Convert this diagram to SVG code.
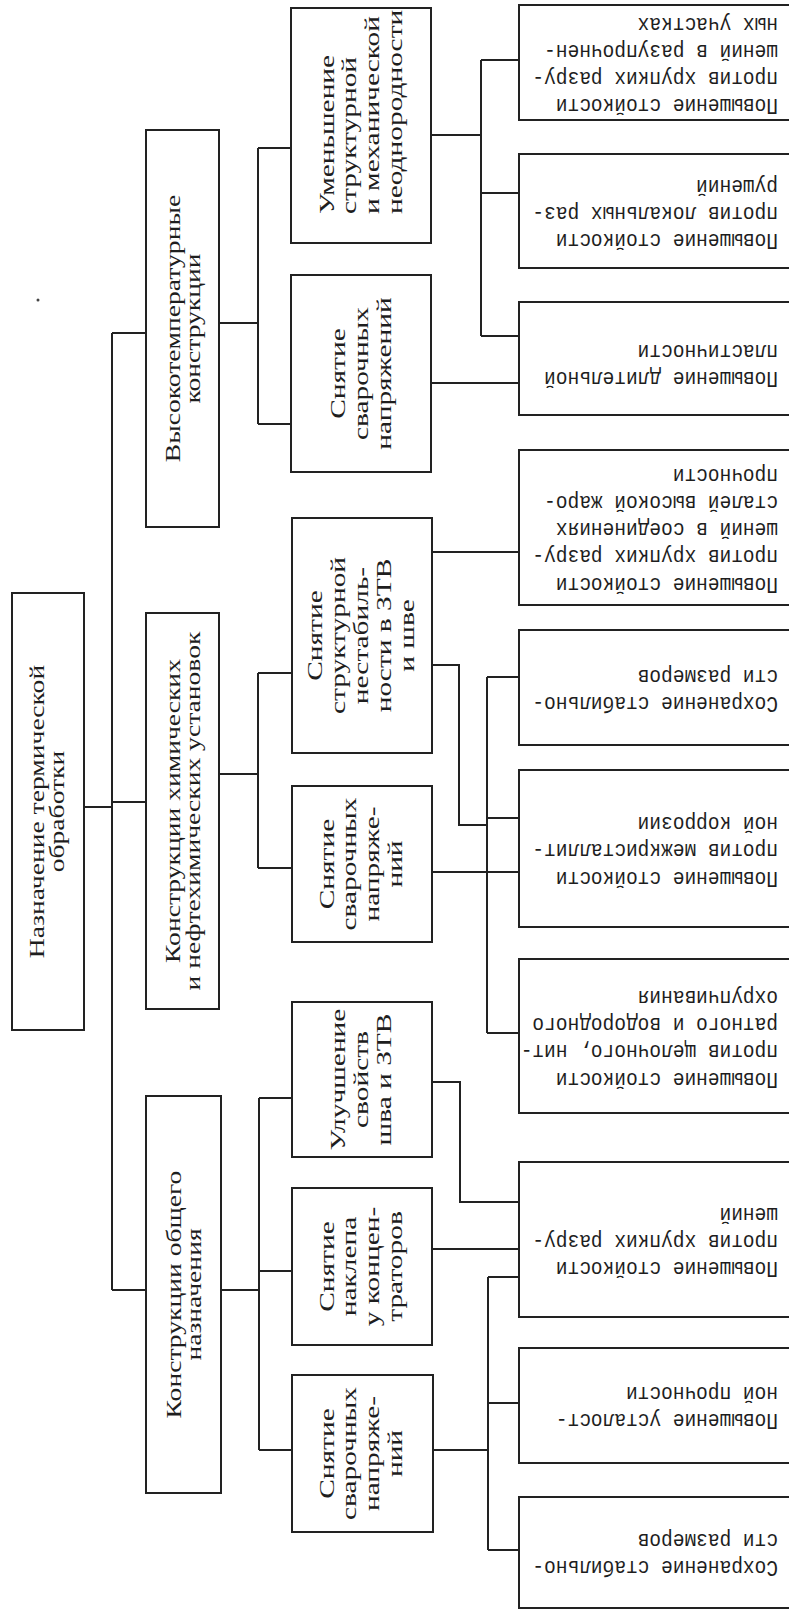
<svg xmlns="http://www.w3.org/2000/svg" width="789" height="1612" viewBox="0 0 789 1612">
<style>
.box{fill:none;stroke:#222;stroke-width:2}
#connectors path{fill:none;stroke:#222;stroke-width:2}
text{fill:#1e1e1e}
.s{font-family:"Liberation Serif","Times New Roman",serif;text-anchor:middle}
.st{text-anchor:start}
.f20{font-size:20px}
.f21{font-size:21px}
.m{font-family:"Liberation Mono","Courier New",monospace;font-size:19.5px}
</style>
<rect width="789" height="1612" fill="#fff"/>
<circle cx="38" cy="300" r="1.5" fill="#444"/>

<g id="connectors">
<path d="M84,807 H112 M112,333 V1290 M112,333 H146 M112,802 H146 M112,1290 H146"/>
<path d="M219,323 H258 M258,148 V424 M258,148 H291 M258,424 H291"/>
<path d="M219,774 H258 M258,673 V868 M258,673 H292 M258,868 H292"/>
<path d="M221,1290 H259 M259,1098 V1450 M259,1098 H292 M259,1271 H292 M259,1450 H292"/>
<path d="M431,135 H481 M481,60 V336 M481,60 H519 M481,193 H519 M481,336 H519 M431,383 H519"/>
<path d="M432,552 H519 M432,665 H459 V825 H487 M487,677 V1033 M487,677 H519 M487,818 H519 M487,1033 H519 M432,872 H519"/>
<path d="M432,1082 H460 V1202 H519 M432,1249 H519 M488,1277 V1550 M488,1277 H519 M488,1403 H519 M488,1550 H519 M433,1450 H488"/>
</g>

<g id="root">
<rect class="box" x="12" y="593" width="72" height="437"/>
<text class="s f20" transform="translate(44,811.5) scale(1,1.38) rotate(-90)"><tspan x="0" y="0">Назначение термической</tspan><tspan x="0" y="20">обработки</tspan></text>
</g>

<g id="n-high">
<rect class="box" x="146" y="130" width="73" height="397"/>
<text class="s f20" transform="translate(179.5,328.5) scale(1,1.38) rotate(-90)"><tspan x="0" y="0">Высокотемпературные</tspan><tspan x="0" y="21">конструкции</tspan></text>
</g>
<g id="n-chem">
<rect class="box" x="146" y="613" width="73" height="396"/>
<text class="s f20" transform="translate(179.5,811) scale(1,1.38) rotate(-90)"><tspan x="0" y="0">Конструкции химических</tspan><tspan x="0" y="21">и нефтехимических установок</tspan></text>
</g>
<g id="n-gen">
<rect class="box" x="146" y="1096" width="75" height="397"/>
<text class="s f20" transform="translate(180.5,1294.5) scale(1,1.38) rotate(-90)"><tspan x="0" y="0">Конструкции общего</tspan><tspan x="0" y="21">назначения</tspan></text>
</g>

<g id="n-umen">
<rect class="box" x="291" y="8" width="140" height="235"/>
<text class="s st f21" transform="translate(333.5,214) scale(1,1.4) rotate(-90)"><tspan x="0" y="0">Уменьшение</tspan><tspan x="0" y="23">структурной</tspan><tspan x="0" y="46">и механической</tspan><tspan x="0" y="69">неоднородности</tspan></text>
</g>
<g id="n-snyat1">
<rect class="box" x="291" y="275" width="140" height="197"/>
<text class="s f21" transform="translate(345,373.5) scale(1,1.4) rotate(-90)"><tspan x="0" y="0">Снятие</tspan><tspan x="0" y="23">сварочных</tspan><tspan x="0" y="46">напряжений</tspan></text>
</g>
<g id="n-struct">
<rect class="box" x="292" y="518" width="140" height="235"/>
<text class="s f21" transform="translate(322,635.5) scale(1,1.4) rotate(-90)"><tspan x="0" y="0">Снятие</tspan><tspan x="0" y="23">структурной</tspan><tspan x="0" y="46">нестабиль-</tspan><tspan x="0" y="69">ности в ЗТВ</tspan><tspan x="0" y="92">и шве</tspan></text>
</g>
<g id="n-snyat2">
<rect class="box" x="292" y="786" width="140" height="156"/>
<text class="s f21" transform="translate(333.5,864) scale(1,1.4) rotate(-90)"><tspan x="0" y="0">Снятие</tspan><tspan x="0" y="23">сварочных</tspan><tspan x="0" y="46">напряже-</tspan><tspan x="0" y="69">ний</tspan></text>
</g>
<g id="n-uluch">
<rect class="box" x="292" y="1002" width="140" height="155"/>
<text class="s f21" transform="translate(345,1079.5) scale(1,1.4) rotate(-90)"><tspan x="0" y="0">Улучшение</tspan><tspan x="0" y="23">свойств</tspan><tspan x="0" y="46">шва и ЗТВ</tspan></text>
</g>
<g id="n-naklep">
<rect class="box" x="292" y="1188" width="140" height="157"/>
<text class="s f21" transform="translate(333.5,1266.5) scale(1,1.4) rotate(-90)"><tspan x="0" y="0">Снятие</tspan><tspan x="0" y="23">наклепа</tspan><tspan x="0" y="46">у концен-</tspan><tspan x="0" y="69">траторов</tspan></text>
</g>
<g id="n-snyat3">
<rect class="box" x="292" y="1375" width="141" height="157"/>
<text class="s f21" transform="translate(333.5,1453.5) scale(1,1.4) rotate(-90)"><tspan x="0" y="0">Снятие</tspan><tspan x="0" y="23">сварочных</tspan><tspan x="0" y="46">напряже-</tspan><tspan x="0" y="69">ний</tspan></text>
</g>

<g id="r1">
<rect class="box" x="519" y="5" width="280" height="115"/>
<text class="m" transform="translate(778,99) scale(1,1.15) rotate(180)"><tspan x="0" y="0">Повышение стойкости</tspan><tspan x="0" y="23.5">против хрупких разру-</tspan><tspan x="0" y="47">шений в разупрочнен-</tspan><tspan x="0" y="70.5">ных участках</tspan></text>
</g>
<g id="r2">
<rect class="box" x="519" y="154" width="280" height="114"/>
<text class="m" transform="translate(778,234) scale(1,1.15) rotate(180)"><tspan x="0" y="0">Повышение стойкости</tspan><tspan x="0" y="23.5">против локальных раз-</tspan><tspan x="0" y="47">рушений</tspan></text>
</g>
<g id="r3">
<rect class="box" x="519" y="302" width="280" height="113"/>
<text class="m" transform="translate(778,372) scale(1,1.15) rotate(180)"><tspan x="0" y="0">Повышение длительной</tspan><tspan x="0" y="23.5">пластичности</tspan></text>
</g>
<g id="r4">
<rect class="box" x="519" y="450" width="280" height="155"/>
<text class="m" transform="translate(778,577.5) scale(1,1.15) rotate(180)"><tspan x="0" y="0">Повышение стойкости</tspan><tspan x="0" y="23.5">против хрупких разру-</tspan><tspan x="0" y="47">шений в соединениях</tspan><tspan x="0" y="70.5">сталей высокой жаро-</tspan><tspan x="0" y="94">прочности</tspan></text>
</g>
<g id="r5">
<rect class="box" x="519" y="630" width="280" height="115"/>
<text class="m" transform="translate(778,697) scale(1,1.15) rotate(180)"><tspan x="0" y="0">Сохранение стабильно-</tspan><tspan x="0" y="23.5">сти размеров</tspan></text>
</g>
<g id="r6">
<rect class="box" x="519" y="770" width="280" height="157"/>
<text class="m" transform="translate(778,871.5) scale(1,1.15) rotate(180)"><tspan x="0" y="0">Повышение стойкости</tspan><tspan x="0" y="23.5">против межкристаллит-</tspan><tspan x="0" y="47">ной коррозии</tspan></text>
</g>
<g id="r7">
<rect class="box" x="519" y="959" width="280" height="154"/>
<text class="m" transform="translate(778,1072.5) scale(1,1.15) rotate(180)"><tspan x="0" y="0">Повышение стойкости</tspan><tspan x="0" y="23.5">против щелочного, нит-</tspan><tspan x="0" y="47">ратного и водородного</tspan><tspan x="0" y="70.5">охрупчивания</tspan></text>
</g>
<g id="r8">
<rect class="box" x="519" y="1162" width="280" height="155"/>
<text class="m" transform="translate(778,1262) scale(1,1.15) rotate(180)"><tspan x="0" y="0">Повышение стойкости</tspan><tspan x="0" y="23.5">против хрупких разру-</tspan><tspan x="0" y="47">шений</tspan></text>
</g>
<g id="r9">
<rect class="box" x="519" y="1348" width="280" height="115"/>
<text class="m" transform="translate(778,1414) scale(1,1.15) rotate(180)"><tspan x="0" y="0">Повышение усталост-</tspan><tspan x="0" y="23.5">ной прочности</tspan></text>
</g>
<g id="r10">
<rect class="box" x="519" y="1497" width="280" height="111"/>
<text class="m" transform="translate(778,1561) scale(1,1.15) rotate(180)"><tspan x="0" y="0">Сохранение стабильно-</tspan><tspan x="0" y="23.5">сти размеров</tspan></text>
</g>
</svg>
